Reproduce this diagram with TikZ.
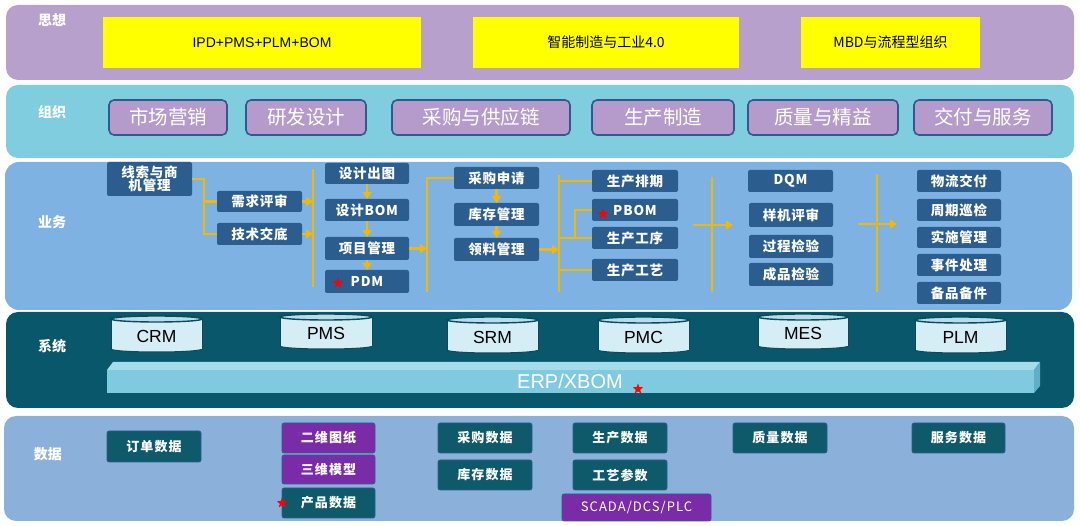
\documentclass[tikz,border=0pt]{standalone}
\usepackage{fontspec}
\setmainfont{Noto Sans CJK SC}
\newfontfamily\lat{Liberation Sans}
\usetikzlibrary{arrows.meta,shapes.geometric,calc}
\definecolor{cthink}{HTML}{B7A0CB}
\definecolor{cyel}{HTML}{FFFF00}
\definecolor{corg}{HTML}{80CDDF}
\definecolor{corgbox}{HTML}{B59BCB}
\definecolor{corgline}{HTML}{2E5A8E}
\definecolor{cbiz}{HTML}{7DB2E2}
\definecolor{cbizbox}{HTML}{2B5D8E}
\definecolor{cgold}{HTML}{F5B800}
\definecolor{csys}{HTML}{08576A}
\definecolor{ccylbody}{HTML}{D5EDF5}
\definecolor{ccyltop}{HTML}{B9DCE8}
\definecolor{ccylline}{HTML}{0A4A5C}
\definecolor{cerpfront}{HTML}{7FCADF}
\definecolor{cerptop}{HTML}{A5DCE9}
\definecolor{cerpside}{HTML}{5FB0C6}
\definecolor{cdata}{HTML}{8BB1DB}
\definecolor{cteal}{HTML}{0E5A6B}
\definecolor{cpurp}{HTML}{7A2CA8}
\newcommand\bx[7]{\node[#6, minimum width=#4pt-#2pt, minimum height=#5pt-#3pt] (#1) at ({(#2+#4)/2},{(#3+#5)/2}) {#7};}
\newcommand\cyl[6]{%
  \pgfmathsetmacro\cx{(#2+#4)/2}%
  \pgfmathsetmacro\rx{(#4-#2)/2}%
  \pgfmathsetmacro\cy{(#3+#5)/2+2}%
  \filldraw[fill=ccylbody, draw=ccylline, line width=1pt] (\cx,#5) ellipse [x radius=\rx, y radius=3];
  \fill[ccylbody] (#2,#3) rectangle (#4,#5);
  \draw[ccylline, line width=1pt] (#2,#3) -- (#2,#5) (#4,#3) -- (#4,#5);
  \filldraw[fill=ccyltop, draw=ccylline, line width=1.4pt] (\cx,#3) ellipse [x radius=\rx, y radius=3];
  \node[cyltext] (#1) at (\cx,\cy) {#6};}
\begin{document}
\begin{tikzpicture}[x=1pt,y=-1pt,
  lbl/.style={text=white, font=\bfseries\fontsize{14}{16}\selectfont, inner sep=0},
  think/.style={fill=cyel, inner sep=0, outer sep=0, font=\fontsize{14}{16}\selectfont},
  orgbox/.style={fill=corgbox, draw=corgline, line width=1.6pt, rounded corners=5pt, text=white, inner sep=0, outer sep=0, font=\fontsize{19.5}{21}\selectfont},
  biz/.style={fill=cbizbox, text=white, inner sep=0, outer sep=0, rounded corners=2pt, font=\bfseries\fontsize{13.5}{15}\selectfont\addfontfeature{LetterSpace=6}, align=center},
  dteal/.style={fill=cteal, draw=corgline, line width=0.6pt, text=white, inner sep=0, outer sep=0, rounded corners=2pt, font=\bfseries\fontsize{13}{15}\selectfont\addfontfeature{LetterSpace=8}},
  dpurp/.style={dteal, fill=cpurp},
  conn/.style={draw=cgold, line width=2.2pt},
  arr/.style={conn, -{Triangle[width=9pt,length=7pt]}},
  cyltext/.style={inner sep=0, font=\lat\fontsize{17.5}{19}\selectfont, text=black},
  redstar/.style={star, star points=5, star point ratio=2.4, fill=red, minimum size=11pt, inner sep=0}]
\useasboundingbox (0,0) rectangle (1080,526);
\fill[white] (0,0) rectangle (1080,526);
% bands
\fill[cthink, rounded corners=12pt] (6,5) rectangle (1074,80);
\fill[corg, rounded corners=12pt] (6,85) rectangle (1074,158);
\fill[cbiz, rounded corners=14pt] (5,162) rectangle (1072,310);
\fill[csys, rounded corners=12pt] (6,312) rectangle (1074,408);
\fill[cdata, rounded corners=12pt] (4,416) rectangle (1074,521);
% band labels
\node[lbl] (L1) at (52,20) {思想};
\node[lbl] (L2) at (52,112) {组织};
\node[lbl] (L3) at (52,222) {业务};
\node[lbl] (L4) at (52,346) {系统};
\node[lbl] (L5) at (48,454) {数据};
% thinking
\bx{t1}{103}{17}{421}{68}{think}{\lat IPD+PMS+PLM+BOM}
\bx{t2}{473}{17}{739}{68}{think}{智能制造与工业4.0}
\bx{t3}{801}{17}{980}{68}{think}{MBD与流程型组织}
% organisation
\bx{o1}{109}{100}{227}{135}{orgbox}{市场营销}
\bx{o2}{246}{100}{366}{135}{orgbox}{研发设计}
\bx{o3}{392}{100}{570}{135}{orgbox}{采购与供应链}
\bx{o4}{592}{100}{734}{135}{orgbox}{生产制造}
\bx{o5}{748}{100}{898}{135}{orgbox}{质量与精益}
\bx{o6}{914}{100}{1052}{135}{orgbox}{交付与服务}
% business
\bx{xs}{107}{162}{192}{196}{biz}{线索与商\\[-2pt]机管理}
\bx{xqps}{217}{191}{302}{212}{biz}{需求评审}
\bx{jsjd}{217}{223}{302}{245}{biz}{技术交底}
\bx{sjct}{325}{163}{409}{184}{biz}{设计出图}
\bx{sjbom}{325}{199}{409}{221}{biz}{设计BOM}
\bx{xmgl}{325}{237}{409}{260}{biz}{项目管理}
\bx{pdm}{325}{270}{409}{293}{biz}{PDM}
\bx{cgsq}{454}{167}{539}{189}{biz}{采购申请}
\bx{kcgl}{454}{203}{539}{226}{biz}{库存管理}
\bx{llgl}{454}{238}{539}{261}{biz}{领料管理}
\bx{scpq}{592}{170}{678}{192}{biz}{生产排期}
\bx{pbom}{592}{199}{678}{221}{biz}{PBOM}
\bx{scgx}{592}{227}{678}{249}{biz}{生产工序}
\bx{scgy}{592}{259}{678}{281}{biz}{生产工艺}
\bx{dqm}{748}{170}{833}{192}{biz}{DQM}
\bx{yjps}{749}{203}{833}{227}{biz}{样机评审}
\bx{gcjy}{749}{235}{833}{258}{biz}{过程检验}
\bx{cpjy}{749}{263}{833}{286}{biz}{成品检验}
\bx{wljf}{917}{170}{1001}{192}{biz}{物流交付}
\bx{zqxj}{917}{199}{1001}{221}{biz}{周期巡检}
\bx{ssgl}{917}{227}{1001}{248}{biz}{实施管理}
\bx{sjcl}{917}{254}{1001}{276}{biz}{事件处理}
\bx{bpbj}{917}{282}{1001}{304}{biz}{备品备件}
\node[redstar] (st1) at (338,283) {};
\node[redstar] (st2) at (603,214) {};
% business connectors
\coordinate (j1) at (204,0);
\draw[conn] (xs.east) -| (j1 |- jsjd.west) -- (jsjd.west);
\draw[conn] (j1 |- xqps.west) -- (xqps.west);
\coordinate (b1t) at (313,169); \coordinate (b1b) at (313,287);
\draw[conn] (b1t) -- (b1b);
\draw[arr] (xqps.east) -- (xqps.east -| b1t);
\draw[arr] (jsjd.east) -- (jsjd.east -| b1t);
\draw[arr] (sjct.south) -- (sjbom.north);
\draw[arr] (sjbom.south) -- (xmgl.north);
\draw[arr] (xmgl.south) -- (pdm.north);
\coordinate (b2t) at (427,177); \coordinate (b2b) at (427,292);
\draw[conn] (b2b) -- (b2t |- cgsq.west) -- (cgsq.west);
\draw[arr] (xmgl.east) -- (xmgl.east -| b2t);
\draw[arr] (cgsq.south) -- (kcgl.north);
\draw[arr] (kcgl.south) -- (llgl.north);
\coordinate (b3t) at (559,175); \coordinate (b3b) at (559,292);
\draw[conn] (b3t) -- (b3b);
\draw[arr] (llgl.east) -- (llgl.east -| b3t);
\draw[conn] (b3t |- scpq.west) -- (scpq.west);
\draw[conn] (b3t |- scgx.west) -- (scgx.west);
\draw[conn] (b3t |- scgy.west) -- (scgy.west);
\coordinate (j3) at (575,0);
\draw[conn] (j3 |- scgx.west) -- (j3 |- pbom.west) -- (pbom.west);
\coordinate (b4t) at (712,177); \coordinate (b4b) at (712,292);
\draw[conn] (b4t) -- (b4b);
\coordinate (a4s) at (693,225); \coordinate (a4e) at (733,225);
\draw[arr] (a4s) -- (a4e);
\coordinate (b5t) at (877,174); \coordinate (b5b) at (877,292);
\draw[conn] (b5t) -- (b5b);
\coordinate (a5s) at (858,224); \coordinate (a5e) at (897,224);
\draw[arr] (a5s) -- (a5e);
% systems
\cyl{crm}{111}{319}{202}{349}{CRM}
\cyl{pms}{280}{317}{372}{346}{PMS}
\cyl{srm}{447}{320}{538}{350}{SRM}
\cyl{pmc}{598}{320}{689}{350}{PMC}
\cyl{mes}{758}{317}{848}{346}{MES}
\cyl{plm}{915}{320}{1006}{350}{PLM}
\fill[cerptop] (107,370) -- (113,362) -- (1040,362) -- (1034,370) -- cycle;
\fill[cerpside] (1034,370) -- (1040,362) -- (1040,386) -- (1034,393) -- cycle;
\fill[cerpfront] (107,370) rectangle (1034,393);
\node[inner sep=0, text=white, font=\lat\fontsize{20}{22}\selectfont] (erp) at (570,381) {ERP/XBOM};
\node[redstar] (st3) at (638,389) {};
% data
\bx{ddsj}{107}{431}{201}{462}{dteal}{订单数据}
\bx{ewtz}{282}{423}{375}{453}{dpurp}{二维图纸}
\bx{swmx}{282}{455}{375}{484}{dpurp}{三维模型}
\bx{cpsj}{282}{488}{375}{518}{dteal}{产品数据}
\bx{cgsj}{438}{423}{532}{453}{dteal}{采购数据}
\bx{kcsj}{438}{460}{532}{490}{dteal}{库存数据}
\bx{scsj}{573}{423}{667}{453}{dteal}{生产数据}
\bx{gycs}{573}{460}{667}{490}{dteal}{工艺参数}
\bx{scada}{562}{494}{711}{521}{dpurp}{\mdseries\fontsize{13}{15}\selectfont SCADA/DCS/PLC}
\bx{zlsj}{733}{423}{827}{453}{dteal}{质量数据}
\bx{fwsj}{912}{423}{1005}{453}{dteal}{服务数据}
\node[redstar] (st4) at (282,503) {};
\end{tikzpicture}
\end{document}
